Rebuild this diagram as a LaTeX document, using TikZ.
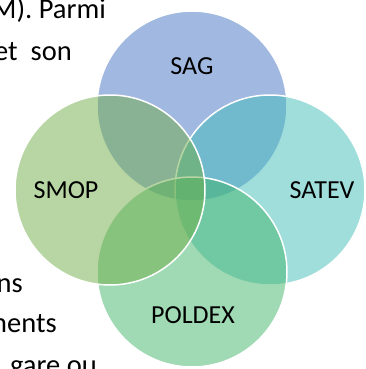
\documentclass[tikz,border=0pt]{standalone}
\usepackage{fontspec}
\setmainfont{Carlito}
\definecolor{sagblue}{RGB}{68,114,196}
\definecolor{satevteal}{RGB}{65,189,185}
\definecolor{poldexgreen}{RGB}{65,181,105}
\definecolor{smopgreen}{RGB}{112,173,71}
\tikzset{
  venn/.style={circle, minimum size=190pt, inner sep=0pt, outer sep=0pt,
    fill opacity=0.5, draw=white, draw opacity=1, line width=1.5pt},
  lbl/.style={font=\fontsize{26}{30}\selectfont, inner sep=0pt, text=black},
  bodytext/.style={font=\fontsize{28.5}{33}\selectfont, inner sep=0pt, anchor=base east, text=black}
}
\begin{document}
\begin{tikzpicture}[x=1pt,y=-1pt]
\useasboundingbox (0,0) rectangle (365,369);
\clip (0,0) rectangle (365,369);

% running text of the page around the figure
\node[bodytext] (t1) at (106,19) {M). Parmi};
\node[bodytext] (t2) at (72,60) {et\ \ son};
\node[bodytext] (t3) at (23,292) {ns};
\node[bodytext] (t4) at (57,332) {ments};
\node[bodytext] (t5) at (97,374) {gare ou};

% four overlapping sets
\node[venn, fill=sagblue]    (sag)    at (192,106) {};
\node[venn, fill=satevteal]  (satev)  at (270,190) {};
\node[venn, fill=poldexgreen](poldex) at (192,272) {};
\node[venn, fill=smopgreen]  (smop)   at (110,190) {};

% set names
\node[lbl] (sagl)    at (192,66)  {SAG};
\node[lbl] (satevl)  at (322,190) {SATEV};
\node[lbl] (poldexl) at (193,315) {POLDEX};
\node[lbl] (smopl)   at (66,190)  {SMOP};
\end{tikzpicture}
\end{document}
